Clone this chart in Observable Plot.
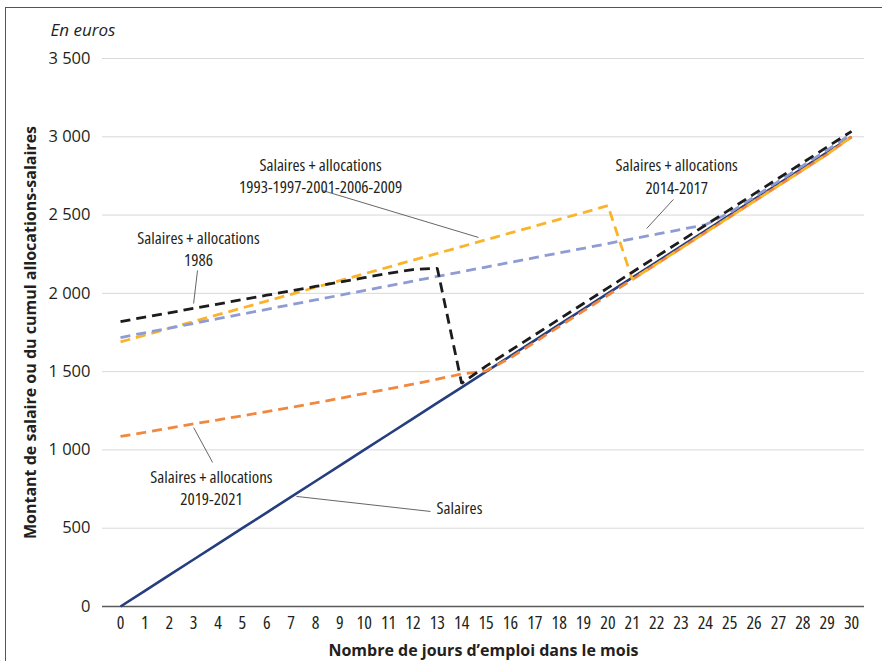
<!DOCTYPE html>
<html>
<head>
<meta charset="utf-8">
<script src="https://cdn.jsdelivr.net/npm/d3@7"></script>
<script src="https://cdn.jsdelivr.net/npm/@observablehq/plot@0.6"></script>
<style>
  html, body { margin: 0; padding: 0; background: #fff; }
  body { width: 882px; height: 661px; position: relative; overflow: hidden; }
  #frame { position: absolute; left: 5px; top: 7px; width: 900px; height: 700px; border: 1px solid #555; box-sizing: border-box; }
  #chart { position: absolute; left: 0; top: 0; }
</style>
</head>
<body>
<div id="frame"></div>
<div id="chart"></div>
<script>
// ---- data ----
const days = [0,1,2,3,4,5,6,7,8,9,10,11,12,13,14,15,16,17,18,19,20,21,22,23,24,25,26,27,28,29,30];
const salaires = [0,100,200,300,400,500,600,700,800,900,1000,1100,1200,1300,1400,1500,1600,1700,1800,1900,2000,2100,2200,2300,2400,2500,2600,2700,2800,2900,3000];
const alloc1986 = [1820,1848,1876,1904,1932,1960,1988,2016,2044,2072,2100,2128,2152,2160,1425,1535,1635,1735,1835,1935,2035,2135,2235,2335,2435,2535,2635,2735,2835,2935,3035];
const alloc1993_2009 = [1690,1733,1777,1820,1864,1907,1951,1994,2038,2081,2125,2168,2212,2255,2299,2342,2386,2429,2473,2516,2560,2090,2188,2288,2388,2488,2588,2688,2788,2888,3000];
const alloc2014_2017 = [1718,1748,1778,1808,1838,1868,1898,1928,1958,1988,2018,2048,2078,2108,2138,2168,2198,2228,2258,2288,2318,2348,2378,2408,2438,2515,2615,2715,2815,2915,3020];
const alloc2019_2021 = [1086,1112,1140,1167,1192,1218,1245,1272,1300,1330,1360,1390,1420,1452,1485,1505,1588,1688,1788,1888,1988,2088,2188,2288,2388,2488,2588,2688,2788,2888,3000];
const yTicks = [0,500,1000,1500,2000,2500,3000,3500];

// annotations (data coordinates)
const noteText = ["Salaires + allocations\n1993-1997-2001-2006-2009", "Salaires + allocations\n1986", "Salaires + allocations\n2014-2017", "Salaires + allocations\n2019-2021"];
const noteX = [8.21, 3.2, 22.82, 3.73];
const noteY = [2759, 2293, 2753, 766];
const salNoteText = ["Salaires"];
const salNoteX = [12.97];
const salNoteY = [626];
const leadX1 = [8.29, 3.16, 22.69, 3.0, 7.22];
const leadY1 = [2657, 2146, 2600, 1143, 703];
const leadX2 = [14.69, 3.0, 21.59, 3.78, 12.72];
const leadY2 = [2357, 1935, 2414, 920, 607];

const series = [
  {name: "Salaires", values: salaires, color: "#253e7e", dash: null, width: 2.6},
  {name: "2019-2021", values: alloc2019_2021, color: "#f0883f", dash: "10,6", width: 2.8},
  {name: "1993-2009", values: alloc1993_2009, color: "#fbb42a", dash: "10,6", width: 2.8},
  {name: "2014-2017", values: alloc2014_2017, color: "#8e9bd4", dash: "10,6", width: 2.8},
  {name: "1986", values: alloc1986, color: "#1c1c1c", dash: "10,6", width: 2.8}
];

const notes = noteText.map((t, i) => ({t, x: noteX[i], y: noteY[i]}));
const salNotes = salNoteText.map((t, i) => ({t, x: salNoteX[i], y: salNoteY[i]}));
const leads = leadX1.map((x1, i) => ({x1, y1: leadY1[i], x2: leadX2[i], y2: leadY2[i]}));

const font = '"Open Sans", sans-serif';
const fmt = d => d3.format(",")(d).replace(",", " ");
const yTitle = "Montant de salaire ou du cumul allocations-salaires";
const xTitle = "Nombre de jours d\u2019emploi dans le mois";

const chart = Plot.plot({
  width: 882,
  height: 661,
  marginLeft: 102,
  marginRight: 18,
  marginTop: 58,
  marginBottom: 55,
  x: {domain: [-0.739, 30.53]},
  y: {domain: [0, 3500]},
  style: {fontFamily: font, fontSize: "16px", color: "#231f20", background: "transparent"},
  marks: [
    Plot.ruleY(yTicks.filter(v => v > 0), {stroke: "#d9d9d9", strokeWidth: 1}),
    Plot.axisY({ticks: yTicks, tickSize: 0, tickPadding: 12, tickFormat: fmt, label: null, fontSize: 16.5, fill: "#231f20"}),
    Plot.axisX({ticks: days, tickSize: 0, tickPadding: 10, tickFormat: d => String(d), label: null, fontSize: 18, fill: "#231f20"}),
    Plot.ruleY([0], {stroke: "#5a5a5a", strokeWidth: 1.4}),
    Plot.link(leads, {x1: "x1", y1: "y1", x2: "x2", y2: "y2", stroke: "#555", strokeWidth: 0.9}),
    ...series.map(s => Plot.line(s.values, {
      x: (d, i) => days[i], y: d => d,
      stroke: s.color, strokeWidth: s.width, strokeDasharray: s.dash, strokeLinejoin: "miter", strokeLinecap: "butt"
    })),
    Plot.text(notes, {x: "x", y: "y", text: "t", textAnchor: "middle", lineHeight: 1.3, fontSize: 17, fill: "#231f20"}),
    Plot.text(salNotes, {x: "x", y: "y", text: "t", textAnchor: "start", fontSize: 17, fill: "#231f20"}),
    Plot.text(["En euros"], {frameAnchor: "top-left", dx: -52, dy: -28, lineAnchor: "middle", textAnchor: "start", fontStyle: "italic", fontSize: 17, fill: "#231f20"}),
    Plot.text([yTitle], {frameAnchor: "left", dx: -72, rotate: -90, textAnchor: "middle", lineAnchor: "middle", fontWeight: "bold", fontSize: 16, fill: "#231f20"}),
    Plot.text([xTitle], {frameAnchor: "bottom", dy: 44, lineAnchor: "middle", fontWeight: "bold", fontSize: 16, fill: "#231f20"})
  ]
});

// condensed typography (Myriad Condensed look) via font-stretch on the annotation and x-tick texts
d3.select(chart).selectAll("text").each(function () {
  const t = this.textContent;
  const parentLabel = this.parentNode && this.parentNode.getAttribute("aria-label");
  let stretch = "75%";
  if (parentLabel === "y-axis tick label" || t === "En euros" || t === yTitle || t === xTitle) stretch = "100%";
  this.style.fontStretch = stretch;
  d3.select(this).selectAll("tspan").style("font-stretch", stretch);
});
document.getElementById("chart").appendChild(chart);
</script>
</body>
</html>
